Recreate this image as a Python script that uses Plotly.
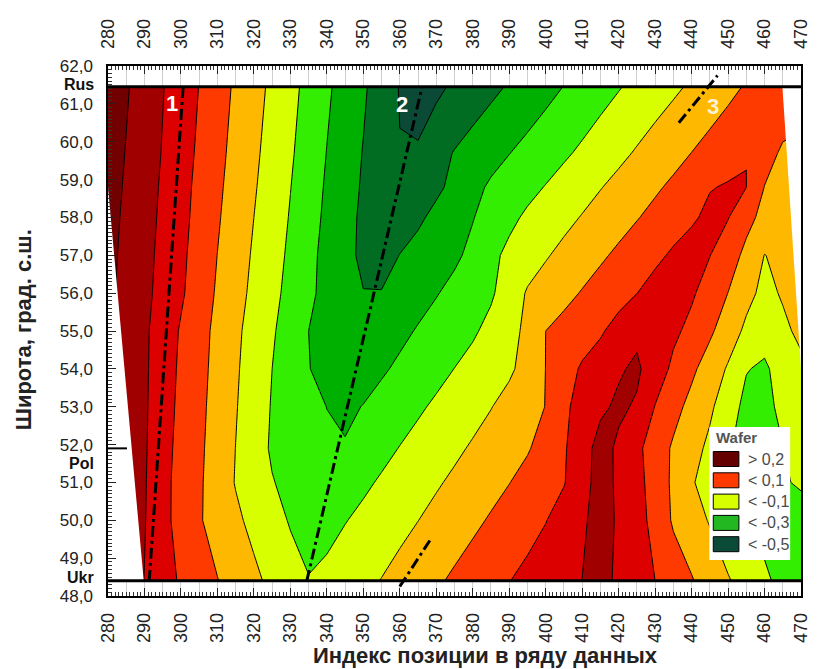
import plotly.graph_objects as go

# ---------------------------------------------------------------- data
# position index columns of the gridded field
x_index = list(range(280, 471, 5))
x_ticks = list(range(280, 471, 10))

# latitude rows (deg N) of the gridded field
lat_rows = [48.4, 50.0, 51.0, 51.9, 53.0, 54.0, 55.0, 56.0, 57.0, 58.0, 58.8, 59.7, 61.45]
lat_ticks = list(range(48, 63))
lat_ticktext = [f"{v},0" for v in lat_ticks]

# Wafer coefficient along each latitude row (one value per position index column)
wafer_48_4 = [0.311, 0.255, 0.198, 0.141, 0.088, 0.045, 0.003, -0.039, -0.080, -0.122,
              -0.165, -0.196, -0.171, -0.146, -0.122, -0.097, -0.069, -0.041, -0.013, 0.015,
              0.043, 0.071, 0.098, 0.124, 0.149, 0.175, 0.201, 0.225, 0.186, 0.143,
              0.100, 0.054, 0.007, -0.042, -0.092, -0.139, -0.185, -0.224, -0.260]
wafer_50_0 = [0.356, 0.280, 0.205, 0.129, 0.065, 0.009, -0.038, -0.082, -0.125, -0.168,
              -0.207, -0.234, -0.237, -0.204, -0.178, -0.152, -0.127, -0.101, -0.074, -0.046,
              -0.019, 0.009, 0.038, 0.067, 0.097, 0.138, 0.180, 0.250, 0.184, 0.135,
              0.071, -0.012, -0.059, -0.107, -0.162, -0.207, -0.228, -0.249, -0.270]
wafer_51_0 = [0.367, 0.287, 0.208, 0.129, 0.066, 0.013, -0.046, -0.105, -0.151, -0.196,
              -0.221, -0.244, -0.267, -0.245, -0.217, -0.189, -0.163, -0.137, -0.110, -0.084,
              -0.056, -0.029, -0.002, 0.030, 0.063, 0.095, 0.164, 0.238, 0.184, 0.129,
              0.061, -0.018, -0.089, -0.149, -0.204, -0.239, -0.247, -0.216, -0.180]
wafer_51_9 = [0.362, 0.286, 0.211, 0.135, 0.071, 0.017, -0.041, -0.101, -0.163, -0.210,
              -0.233, -0.257, -0.285, -0.293, -0.254, -0.226, -0.197, -0.171, -0.144, -0.117,
              -0.090, -0.063, -0.036, -0.008, 0.036, 0.089, 0.162, 0.233, 0.185, 0.122,
              0.053, -0.013, -0.064, -0.121, -0.192, -0.230, -0.236, -0.202, -0.160]
wafer_53_0 = [0.350, 0.283, 0.213, 0.142, 0.078, 0.023, -0.035, -0.094, -0.152, -0.206,
              -0.238, -0.270, -0.301, -0.318, -0.297, -0.269, -0.241, -0.213, -0.186, -0.158,
              -0.131, -0.103, -0.069, -0.034, 0.002, 0.081, 0.136, 0.184, 0.215, 0.190,
              0.097, 0.032, -0.028, -0.083, -0.156, -0.226, -0.221, -0.182, -0.150]
wafer_54_0 = [0.350, 0.281, 0.215, 0.148, 0.084, 0.029, -0.029, -0.088, -0.144, -0.200,
              -0.249, -0.298, -0.319, -0.339, -0.339, -0.312, -0.284, -0.256, -0.227, -0.199,
              -0.171, -0.143, -0.115, -0.067, 0.001, 0.062, 0.111, 0.141, 0.190, 0.215,
              0.151, 0.081, 0.019, -0.045, -0.110, -0.195, -0.215, -0.160, -0.120]
wafer_55_0 = [0.330, 0.274, 0.216, 0.154, 0.091, 0.034, -0.023, -0.081, -0.136, -0.189,
              -0.244, -0.300, -0.325, -0.349, -0.374, -0.349, -0.321, -0.293, -0.266, -0.239,
              -0.212, -0.175, -0.132, -0.078, 0.000, 0.030, 0.060, 0.090, 0.132, 0.180,
              0.149, 0.118, 0.076, 0.016, -0.051, -0.119, -0.162, -0.119, -0.080]
wafer_56_0 = [0.320, 0.272, 0.223, 0.170, 0.113, 0.051, -0.011, -0.067, -0.121, -0.174,
              -0.228, -0.284, -0.323, -0.354, -0.398, -0.396, -0.358, -0.332, -0.305, -0.275,
              -0.243, -0.212, -0.155, -0.091, -0.059, -0.026, 0.006, 0.037, 0.068, 0.099,
              0.137, 0.146, 0.112, 0.060, -0.001, -0.072, -0.125, -0.091, -0.040]
wafer_57_0 = [0.325, 0.277, 0.228, 0.176, 0.120, 0.060, -0.001, -0.056, -0.111, -0.163,
              -0.217, -0.274, -0.328, -0.379, -0.415, -0.440, -0.398, -0.371, -0.343, -0.316,
              -0.278, -0.222, -0.179, -0.144, -0.108, -0.076, -0.045, -0.014, 0.017, 0.048,
              0.079, 0.114, 0.142, 0.102, 0.043, -0.022, -0.102, -0.078, -0.050]
wafer_58_0 = [0.332, 0.283, 0.234, 0.183, 0.128, 0.070, 0.010, -0.046, -0.100, -0.153,
              -0.206, -0.263, -0.318, -0.371, -0.416, -0.452, -0.452, -0.415, -0.378, -0.341,
              -0.304, -0.263, -0.221, -0.185, -0.155, -0.125, -0.095, -0.065, -0.035, -0.005,
              0.025, 0.056, 0.086, 0.122, 0.104, 0.027, -0.026, -0.071, -0.100]
wafer_58_8 = [0.339, 0.289, 0.239, 0.188, 0.133, 0.076, 0.018, -0.038, -0.091, -0.145,
              -0.198, -0.255, -0.311, -0.363, -0.410, -0.447, -0.477, -0.447, -0.417, -0.378,
              -0.327, -0.286, -0.256, -0.226, -0.196, -0.165, -0.135, -0.104, -0.074, -0.043,
              -0.013, 0.017, 0.047, 0.095, 0.108, 0.101, -0.002, -0.037, -0.070]
wafer_59_7 = [0.346, 0.296, 0.245, 0.195, 0.140, 0.085, 0.027, -0.029, -0.082, -0.135,
              -0.188, -0.245, -0.302, -0.354, -0.404, -0.446, -0.497, -0.488, -0.433, -0.395,
              -0.364, -0.333, -0.302, -0.273, -0.244, -0.214, -0.184, -0.153, -0.122, -0.091,
              -0.060, -0.030, 0.001, 0.031, 0.060, 0.099, 0.036, -0.014, -0.050]
wafer_61_45 = [0.362, 0.309, 0.257, 0.204, 0.151, 0.098, 0.042, -0.014, -0.066, -0.119,
               -0.172, -0.228, -0.285, -0.337, -0.387, -0.446, -0.505, -0.551, -0.522, -0.483,
               -0.452, -0.422, -0.391, -0.360, -0.329, -0.298, -0.267, -0.236, -0.206, -0.176,
               -0.146, -0.117, -0.087, -0.055, -0.024, 0.008, 0.039, 0.070, 0.100]

wafer = [wafer_48_4, wafer_50_0, wafer_51_0, wafer_51_9, wafer_53_0, wafer_54_0, wafer_55_0,
         wafer_56_0, wafer_57_0, wafer_58_0, wafer_58_8, wafer_59_7, wafer_61_45]

# reference latitudes of the three national series, and where their names sit
region_names = ["Rus", "Pol", "Ukr"]
region_lat = [61.45, 51.9, 48.4]
region_name_lat = [61.5, 51.5, 48.5]

# edges of the area covered by data (outside them the field is undefined)
left_edge_x = [280.0, 289.8]
left_edge_lat = [58.8, 48.4]
right_edge_x = [464.9, 470.0]
right_edge_lat = [61.45, 54.0]

# traced axes of the structures 1, 2, 3
axis1_x, axis1_lat = [291.3, 300.6], [48.4, 61.45]
axis2_x, axis2_lat = [334.5, 366.1], [48.4, 61.45]
axis3a_x, axis3a_lat = [360.0, 368.8], [48.25, 49.55]
axis3b_x, axis3b_lat = [436.5, 447.1], [60.5, 61.75]
axis_labels = ["1", "2", "3"]
axis_label_x = [297.6, 360.7, 445.9]
axis_label_lat = [61.0, 60.97, 60.92]

# contour classes
level_start, level_end, level_step = -0.5, 0.3, 0.1
band_colors = ["#0b4a36", "#006d22", "#00b000", "#33ee00", "#d7ff00",
               "#ffb800", "#ff3a00", "#dc0000", "#a10000", "#730000"]
legend_labels = ["> 0,2", "< 0,1", "< -0,1", "< -0,3", "< -0,5"]
legend_colors = ["#650000", "#ff3a00", "#d7ff00", "#22b822", "#0b4a36"]

# ---------------------------------------------------------------- figure
FONT = "Liberation Sans, Arial, sans-serif"
L, R, T, B = 108, 9, 66, 73
W, H = 820, 669
PW, PH = W - L - R, H - T - B


def px_x(px):
    return (px - L) / PW


def px_y(py):
    return (H - B - py) / PH


colorscale = [[i / (len(band_colors) - 1), c] for i, c in enumerate(band_colors)]

fig = go.Figure()

fig.add_trace(go.Contour(
    x=x_index, y=lat_rows, z=wafer,
    contours=dict(start=level_start, end=level_end, size=level_step,
                  coloring="fill", showlines=True),
    line=dict(color="black", width=1, smoothing=0),
    colorscale=colorscale, showscale=False, hoverinfo="skip",
))

# blank areas outside the data coverage
fig.add_trace(go.Scatter(
    x=[left_edge_x[0], left_edge_x[1], x_index[0]],
    y=[left_edge_lat[0], left_edge_lat[1], lat_rows[0]],
    fill="toself", fillcolor="white", mode="lines", line=dict(width=0),
    hoverinfo="skip", showlegend=False))
fig.add_trace(go.Scatter(
    x=[right_edge_x[0], right_edge_x[1], x_index[-1]],
    y=[right_edge_lat[0], right_edge_lat[1], right_edge_lat[0]],
    fill="toself", fillcolor="white", mode="lines", line=dict(width=0),
    hoverinfo="skip", showlegend=False))

# dash-dot axes of structures
dashdot = dict(color="black", width=3, dash="11px,4px,3px,4px")
for xs, ys in [(axis1_x, axis1_lat), (axis2_x, axis2_lat),
               (axis3a_x, axis3a_lat), (axis3b_x, axis3b_lat)]:
    fig.add_trace(go.Scatter(x=xs, y=ys, mode="lines", line=dashdot,
                             hoverinfo="skip", showlegend=False))

# carrier for the top axis
fig.add_trace(go.Scatter(x=[x_index[0], x_index[-1]], y=[lat_rows[0], lat_rows[0]],
                         xaxis="x2", mode="markers", marker=dict(opacity=0),
                         hoverinfo="skip", showlegend=False))

tickfont = dict(family=FONT, size=18, color="#222222")
ytickfont = dict(family=FONT, size=17, color="#222222")

shapes = []
# Rus and Ukr reference lines, Pol tick
for name, lat in zip(region_names, region_lat):
    if name == "Pol":
        shapes.append(dict(type="line", xref="x", yref="y", x0=x_index[0], x1=x_index[0] + 5.2,
                           y0=lat, y1=lat, line=dict(color="black", width=2), layer="above"))
    else:
        shapes.append(dict(type="line", xref="x", yref="y", x0=x_index[0], x1=x_index[-1],
                           y0=lat, y1=lat, line=dict(color="black", width=3), layer="above"))

# legend panel
shapes.append(dict(type="rect", xref="paper", yref="paper",
                   x0=px_x(718), x1=px_x(800), y0=px_y(560), y1=px_y(427),
                   fillcolor="white", line=dict(width=0), layer="above"))
annotations = [dict(text="<b>Wafer</b>", xref="paper", yref="paper", x=px_x(723), y=px_y(437),
                    xanchor="left", yanchor="middle", showarrow=False,
                    font=dict(family=FONT, size=15, color="#555555"))]
for i, (lab, col) in enumerate(zip(legend_labels, legend_colors)):
    cy = 459 + i * 21.3
    shapes.append(dict(type="rect", xref="paper", yref="paper",
                       x0=px_x(722), x1=px_x(748), y0=px_y(cy + 7.5), y1=px_y(cy - 7.5),
                       fillcolor=col, line=dict(color="black", width=1), layer="above"))
    annotations.append(dict(text=lab, xref="paper", yref="paper", x=px_x(755), y=px_y(cy),
                            xanchor="left", yanchor="middle", showarrow=False,
                            font=dict(family=FONT, size=16, color="#4a4a4a")))

# region names at the left axis, between the latitude labels
for name, lat in zip(region_names, region_name_lat):
    annotations.append(dict(text=f"<b>{name}</b>", xref="paper", yref="y", x=0, y=lat,
                            xanchor="right", yanchor="middle", xshift=-12,
                            showarrow=False, font=dict(family=FONT, size=16, color="#111111")))

# structure numbers
for lab, xv, yv in zip(axis_labels, axis_label_x, axis_label_lat):
    annotations.append(dict(text=f"<b>{lab}</b>", x=xv, y=yv, xref="x", yref="y",
                            showarrow=False,
                            font=dict(family=FONT, size=22,
                                      color="#fff1d6" if lab == "3" else "white")))

# axis titles
annotations.append(dict(text="<b>Индекс позиции в ряду данных</b>", xref="paper", yref="paper",
                        x=px_x(491), y=px_y(655), xanchor="center", yanchor="middle",
                        showarrow=False, font=dict(family=FONT, size=22, color="#222222")))
annotations.append(dict(text="<b>Широта, град. с.ш.</b>", xref="paper", yref="paper",
                        x=px_x(22), y=px_y(330), xanchor="center", yanchor="middle",
                        textangle=-90, showarrow=False,
                        font=dict(family=FONT, size=22, color="#222222")))

fig.update_layout(
    width=W, height=H,
    margin=dict(l=L, r=R, t=T, b=B, pad=0),
    paper_bgcolor="white", plot_bgcolor="white",
    showlegend=False,
    xaxis=dict(range=[x_index[0], x_index[-1]], tickmode="array", tickvals=x_ticks,
               ticktext=[str(v) for v in x_ticks], tickangle=-90, tickfont=tickfont,
               ticks="inside", ticklen=8, tickwidth=1, tickcolor="#222222",
               minor=dict(dtick=1, tick0=280, ticks="inside", ticklen=4, tickcolor="#333333"),
               showline=True, linecolor="black", linewidth=1.5, mirror="ticks",
               showgrid=False, zeroline=False, ticklabelstandoff=8),
    xaxis2=dict(overlaying="x", side="top", anchor="y", range=[x_index[0], x_index[-1]],
                tickmode="array", tickvals=x_ticks, ticktext=[str(v) for v in x_ticks],
                tickangle=-90, tickfont=tickfont, ticks="",
                showgrid=True, gridcolor="#cfcfcf", gridwidth=1,
                minor=dict(dtick=5, tick0=280, showgrid=True, gridcolor="#cfcfcf"),
                showline=False, zeroline=False, ticklabelstandoff=16),
    yaxis=dict(range=[48, 62], tickmode="array", tickvals=lat_ticks, ticktext=lat_ticktext,
               tickfont=ytickfont, ticks="inside", ticklen=8, tickwidth=1, tickcolor="#222222",
               minor=dict(dtick=0.1, tick0=48, ticks="inside", ticklen=4, tickcolor="#333333"),
               showline=True, linecolor="black", linewidth=1.5, mirror=True,
               showgrid=False, zeroline=False, ticklabelstandoff=10),
    shapes=shapes,
    annotations=annotations,
)

fig.write_html("out.html")
